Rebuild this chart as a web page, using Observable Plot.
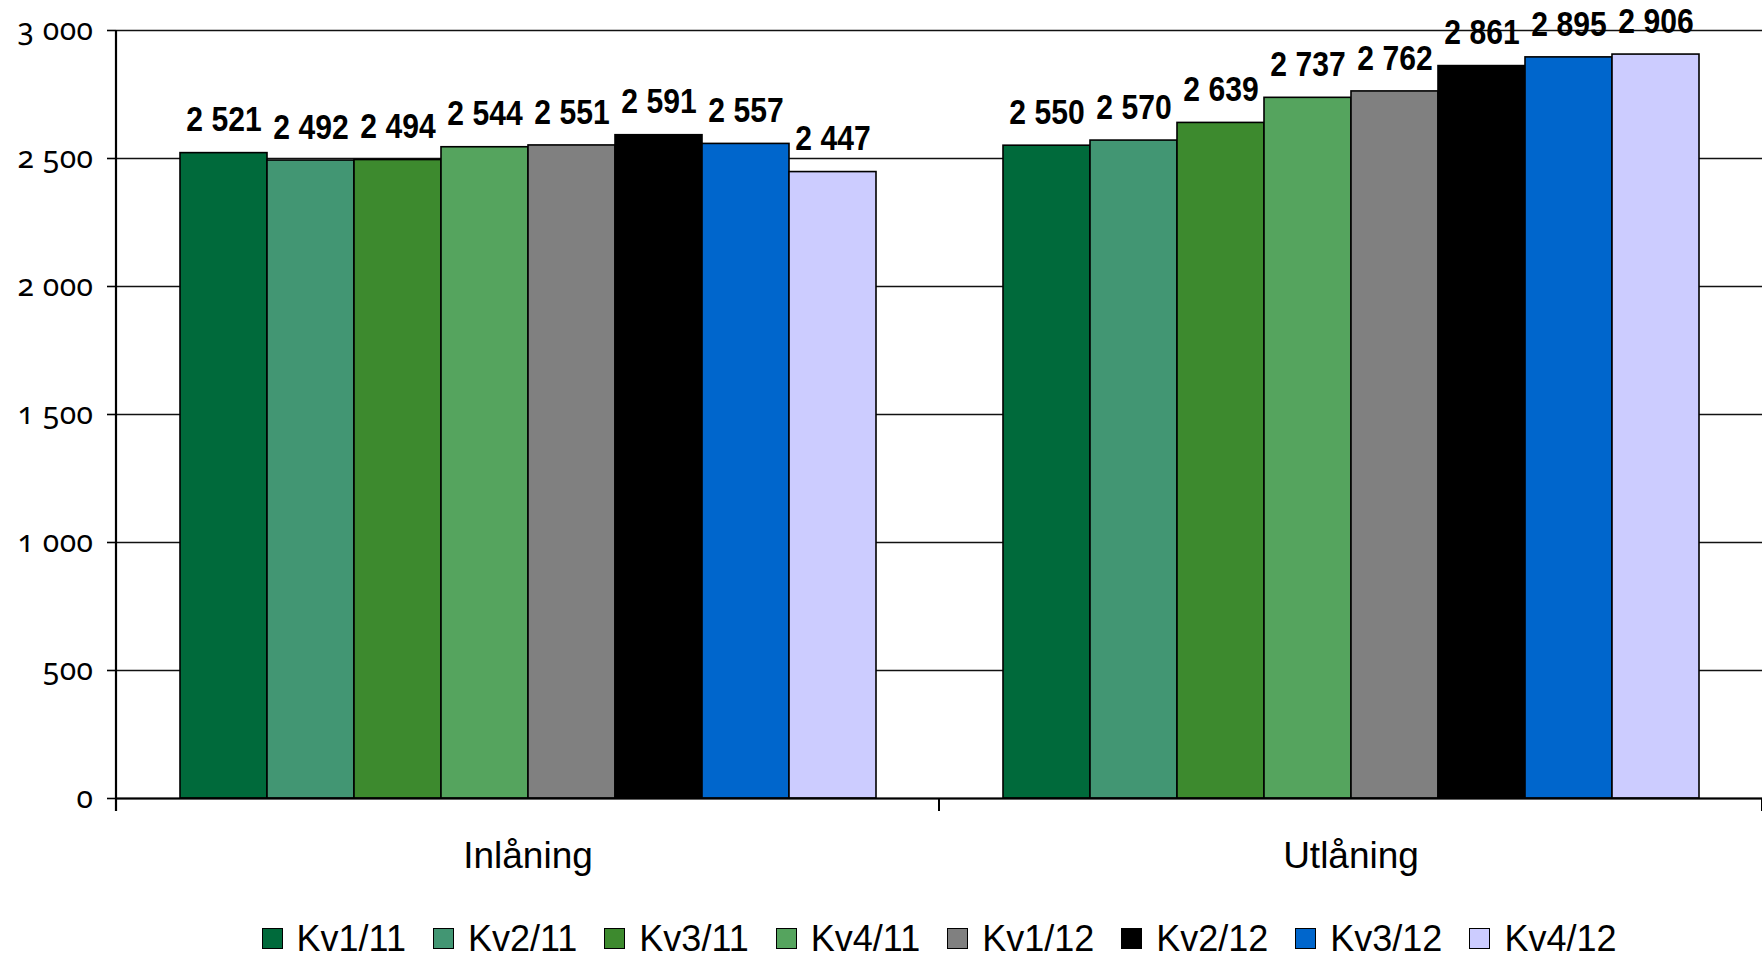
<!DOCTYPE html>
<html><head><meta charset="utf-8">
<script src="https://cdn.jsdelivr.net/npm/d3@7"></script>
<script src="https://cdn.jsdelivr.net/npm/@observablehq/plot@0.6"></script>
<style>
body{margin:0;background:#fff;}
#chart svg{display:block;}
#legend{display:flex;justify-content:center;align-items:center;padding-left:116px;padding-top:20px;height:37px;
  font-family:'Liberation Sans',Arial,sans-serif;font-size:36px;line-height:36px;color:#000;}
#legend .item{display:flex;align-items:center;margin-right:27px;}
#legend .item:last-child{margin-right:0;}
#legend .sw{width:21px;height:21px;box-sizing:border-box;border:1.5px solid #000;margin-right:14px;}
</style></head><body>
<div id="chart"></div>
<div id="legend"></div>
<script>
const categories = ["Inlåning", "Utlåning"];
const quarters = ["Kv1/11", "Kv2/11", "Kv3/11", "Kv4/11", "Kv1/12", "Kv2/12", "Kv3/12", "Kv4/12"];
const inlaning = [2521, 2492, 2494, 2544, 2551, 2591, 2557, 2447];
const utlaning = [2550, 2570, 2639, 2737, 2762, 2861, 2895, 2906];
const colors = ["#006A3B", "#429673", "#3D8A2E", "#55A45E", "#808080", "#000000", "#0066CC", "#CCCCFF"];
const yTicks = [0, 500, 1000, 1500, 2000, 2500, 3000];

const data = [];
quarters.forEach((q, i) => {
  data.push({category: categories[0], quarter: q, value: inlaning[i]});
  data.push({category: categories[1], quarter: q, value: utlaning[i]});
});

const fmt = d3.formatLocale({decimal: ",", thousands: " ", grouping: [3], currency: ["", ""]}).format(",d");

const W = 1762, H = 900;
const chart = Plot.plot({
  width: W, height: H,
  marginTop: 30, marginBottom: 102, marginLeft: 116, marginRight: 0,
  style: {fontFamily: "'Liberation Sans', Arial, sans-serif", background: "#fff", color: "#000", overflow: "visible"},
  fx: {domain: categories, padding: 0, label: null},
  x: {domain: quarters, paddingInner: 0, paddingOuter: 0.72, axis: null},
  y: {domain: [0, 3000], label: null},
  color: {domain: quarters, range: colors},
  marks: [
    Plot.gridY(yTicks, {stroke: "#111", strokeOpacity: 1, strokeWidth: 1.6}),
    Plot.axisY(yTicks, {tickSize: 9, tickPadding: 14, tickFormat: fmt, fontSize: 30, fontFamily: "'Noto Sans', sans-serif", label: null, strokeWidth: 1.6}),
    Plot.barY(data, {fx: "category", x: "quarter", y: "value", fill: "quarter", stroke: "#000", strokeWidth: 1.6}),
    Plot.text(data, {fx: "category", x: "quarter", y: "value", text: d => fmt(d.value), dy: -33,
      fontSize: 35, fontWeight: "bold", fill: "#000"}),
    Plot.ruleY([0], {stroke: "#000", strokeWidth: 2}),
    Plot.axisFx({anchor: "bottom", tickSize: 0, tickPadding: 43, fontSize: 37, label: null})
  ]
});
document.getElementById("chart").appendChild(chart);

const svg = d3.select(chart);
svg.selectAll('g[aria-label="y-axis tick label"] text')
  .style("font-variant-numeric", "oldstyle-nums").style("letter-spacing", "0.5px");

// condense the bold value labels horizontally around their anchor
svg.selectAll('g[aria-label="text"] text').each(function() {
  const t = d3.select(this);
  const x = +t.attr("x") || 0, yy = +t.attr("y") || 0;
  const tr = t.attr("transform") || "";
  t.attr("transform", `${tr} translate(${x},${yy}) scale(0.86,1) translate(${-x},${-yy})`);
});

// axis line and category boundary ticks, from the library's scales
const fx = chart.scale("fx"), y = chart.scale("y");
const yb = y.apply(0), yt = y.apply(3000);
const xl = fx.apply(categories[0]);
svg.append("line").attr("x1", xl).attr("x2", xl).attr("y1", yt).attr("y2", yb + 13)
  .attr("stroke", "#000").attr("stroke-width", 2.2);
categories.forEach(c => {
  const a = fx.apply(c);
  [a, a + fx.bandwidth].forEach(xx => {
    svg.append("line").attr("x1", xx).attr("x2", xx).attr("y1", yb).attr("y2", yb + 13)
      .attr("stroke", "#000").attr("stroke-width", 2);
  });
});

// legend
const lg = document.getElementById("legend");
quarters.forEach((q, i) => {
  const it = document.createElement("div"); it.className = "item";
  const sw = document.createElement("div"); sw.className = "sw"; sw.style.background = colors[i];
  const tx = document.createElement("span"); tx.textContent = q;
  it.appendChild(sw); it.appendChild(tx); lg.appendChild(it);
});
</script>
</body></html>
